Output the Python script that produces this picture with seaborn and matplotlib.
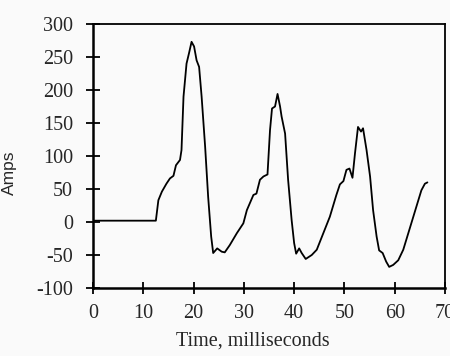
import matplotlib
matplotlib.use("Agg")
import matplotlib.pyplot as plt
import seaborn as sns
import pandas as pd

time_ms = [0.0, 12.5, 13.0, 13.7, 14.6, 15.3, 16.0, 16.5, 17.3, 17.6, 18.0, 18.6, 19.1, 19.6,
           20.1, 20.6, 21.1, 21.6, 22.3, 22.9, 23.5, 23.9, 24.7, 25.6, 26.2, 27.2, 28.6,
           29.9, 30.6, 31.9, 32.5, 33.2, 33.9, 34.7, 35.2, 35.6, 36.2, 36.7, 37.2, 37.5,
           38.2, 38.8, 39.5, 40.0, 40.4, 41.0, 41.5, 42.3, 43.5, 44.5, 45.8, 47.1, 48.4,
           49.1, 49.8, 50.4, 51.0, 51.6, 52.1, 52.7, 53.3, 53.7, 54.4, 55.1, 55.7, 56.4,
           56.9, 57.6, 58.3, 58.9, 59.7, 60.7, 61.7, 62.7, 63.7, 64.7, 65.3, 66.0, 66.5]
amps = [2, 2, 33, 46, 58, 66, 70, 86, 94, 109, 190, 240, 256, 273,
        266, 245, 235, 190, 114, 38, -22, -47, -40, -45, -46, -35, -17,
        -2, 18, 41, 43, 64, 69, 72, 139, 172, 175, 194, 175, 160,
        134, 64, 3, -32, -48, -40, -47, -56, -50, -42, -17, 8, 41,
        57, 62, 79, 81, 67, 104, 144, 137, 142, 109, 69, 18, -22,
        -43, -47, -60, -68, -65, -58, -42, -17, 8, 33, 48, 58, 60]

x_ticks = [0, 10, 20, 30, 40, 50, 60, 70]
y_ticks = [-100, -50, 0, 50, 100, 150, 200, 250, 300]

df = pd.DataFrame({"time": time_ms, "amps": amps})

sns.set_style("white")
plt.rcParams["font.family"] = ["Liberation Serif", "DejaVu Serif"]
plt.rcParams["axes.unicode_minus"] = False

bg = "#fafafa"
fig = plt.figure(figsize=(4.5, 3.56), dpi=100, facecolor=bg)
ax = fig.add_axes([93/450, 1-288/356, (445-93)/450, (288-24)/356])
ax.set_facecolor(bg)

sns.lineplot(data=df, x="time", y="amps", ax=ax, color="black", linewidth=1.3)

ax.set_xlim(0, 70)
ax.set_ylim(-100, 300)
ax.set_xticks(x_ticks)
ax.set_yticks(y_ticks)
ax.tick_params(axis="x", direction="inout", length=8.5, width=1.3, color="black",
               labelsize=14.5, pad=7, bottom=True)
ax.tick_params(axis="y", direction="inout", length=10, width=1.3, color="black",
               labelsize=14.5, pad=9.5, left=True)

for s in ["left", "bottom"]:
    ax.spines[s].set_linewidth(1.8)
    ax.spines[s].set_color("black")
for s in ["top", "right"]:
    ax.spines[s].set_linewidth(1.3)
    ax.spines[s].set_color("black")

ax.set_xlabel("Time, milliseconds", fontsize=14.5)
ax.set_ylabel("Amps", fontsize=12.5, family=["Liberation Sans", "DejaVu Sans"])
ax.xaxis.set_label_coords((252.5-93)/352, (288-332)/264)
ax.yaxis.set_label_coords((17-93)/352, (288-173)/264)

fig.savefig("out.png", dpi=100, facecolor=bg)
